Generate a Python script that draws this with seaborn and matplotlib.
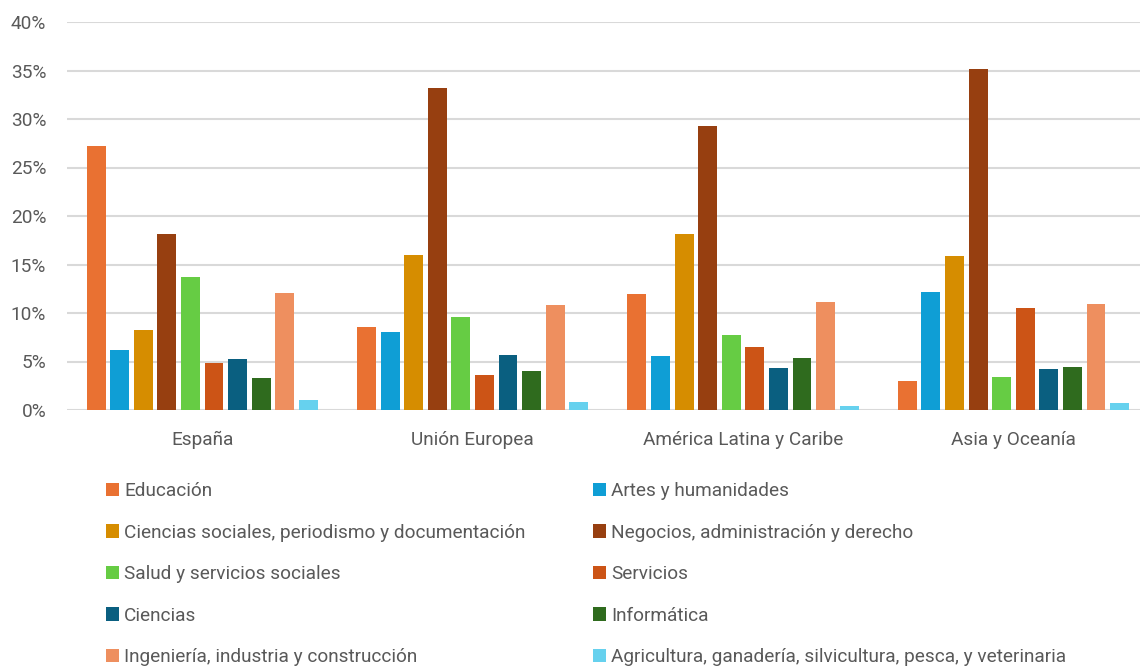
import pandas as pd
import seaborn as sns
import matplotlib.pyplot as plt
from matplotlib.ticker import PercentFormatter
from matplotlib.patches import Patch

# Data
regiones = ["España", "Unión Europea", "América Latina y Caribe", "Asia y Oceanía"]
areas = [
    "Educación",
    "Artes y humanidades",
    "Ciencias sociales, periodismo y documentación",
    "Negocios, administración y derecho",
    "Salud y servicios sociales",
    "Servicios",
    "Ciencias",
    "Informática",
    "Ingeniería, industria y construcción",
    "Agricultura, ganadería, silvicultura, pesca, y veterinaria",
]
espana = [27.2, 6.2, 8.2, 18.1, 13.7, 4.8, 5.3, 3.3, 12.1, 1.0]
union_europea = [8.6, 8.0, 16.0, 33.2, 9.6, 3.6, 5.7, 4.0, 10.8, 0.8]
america_latina = [12.0, 5.6, 18.1, 29.3, 7.7, 6.5, 4.3, 5.4, 11.1, 0.4]
asia_oceania = [3.0, 12.2, 15.9, 35.2, 3.4, 10.5, 4.2, 4.4, 10.9, 0.7]

colores = ["#E97132", "#0F9ED5", "#D68D00", "#973F10", "#66CC44",
           "#CC5416", "#0A5F80", "#2F6B1E", "#EE8F5F", "#66D1EE"]

rows = []
for reg, vals in zip(regiones, [espana, union_europea, america_latina, asia_oceania]):
    for area, v in zip(areas, vals):
        rows.append({"region": reg, "area": area, "pct": v / 100})
df = pd.DataFrame(rows)

sns.set_theme(style="white")
plt.rcParams['font.family'] = ['Roboto', 'DejaVu Sans']
gris = "#595959"
fs = 13.7

fig = plt.figure(figsize=(11.42, 6.66), dpi=100)
W, H = 1142, 666
ax = fig.add_axes([67 / W, 1 - 410 / H, (1140 - 67) / W, (410 - 22) / H])

sns.barplot(data=df, x="region", y="pct", hue="area", hue_order=areas,
            palette=colores, width=0.872, gap=0.2, ax=ax, legend=False,
            saturation=1, linewidth=0)

ax.set_ylim(0, 0.4)
ax.set_xlim(-0.5, 3.468)
ax.set_yticks([i / 100 for i in range(0, 41, 5)])
ax.yaxis.set_major_formatter(PercentFormatter(1.0, decimals=0))
ax.grid(axis="y", color="#D9D9D9", linewidth=1.5)
ax.set_axisbelow(True)
for s in ax.spines.values():
    s.set_visible(False)
ax.set_xlabel("")
ax.set_ylabel("")
ax.tick_params(axis="both", length=0, labelsize=fs, colors=gris)
ax.tick_params(axis="x", pad=15)
ax.tick_params(axis="y", pad=15)

# Legend in two columns, row-wise order like the original
handles = [Patch(facecolor=c, edgecolor="none") for c in colores]
for col, x0 in [(0, 106), (1, 593)]:
    idx = list(range(col, len(areas), 2))
    fig.legend([handles[i] for i in idx], [areas[i] for i in idx],
               loc="upper left", bbox_to_anchor=(x0 / W, 1 - 482 / H),
               frameon=False, fontsize=fs, labelcolor=gris,
               handlelength=0.7, handleheight=0.7, handletextpad=0.25,
               labelspacing=1.24, borderaxespad=0, borderpad=0)

fig.savefig("out.png", dpi=100)
